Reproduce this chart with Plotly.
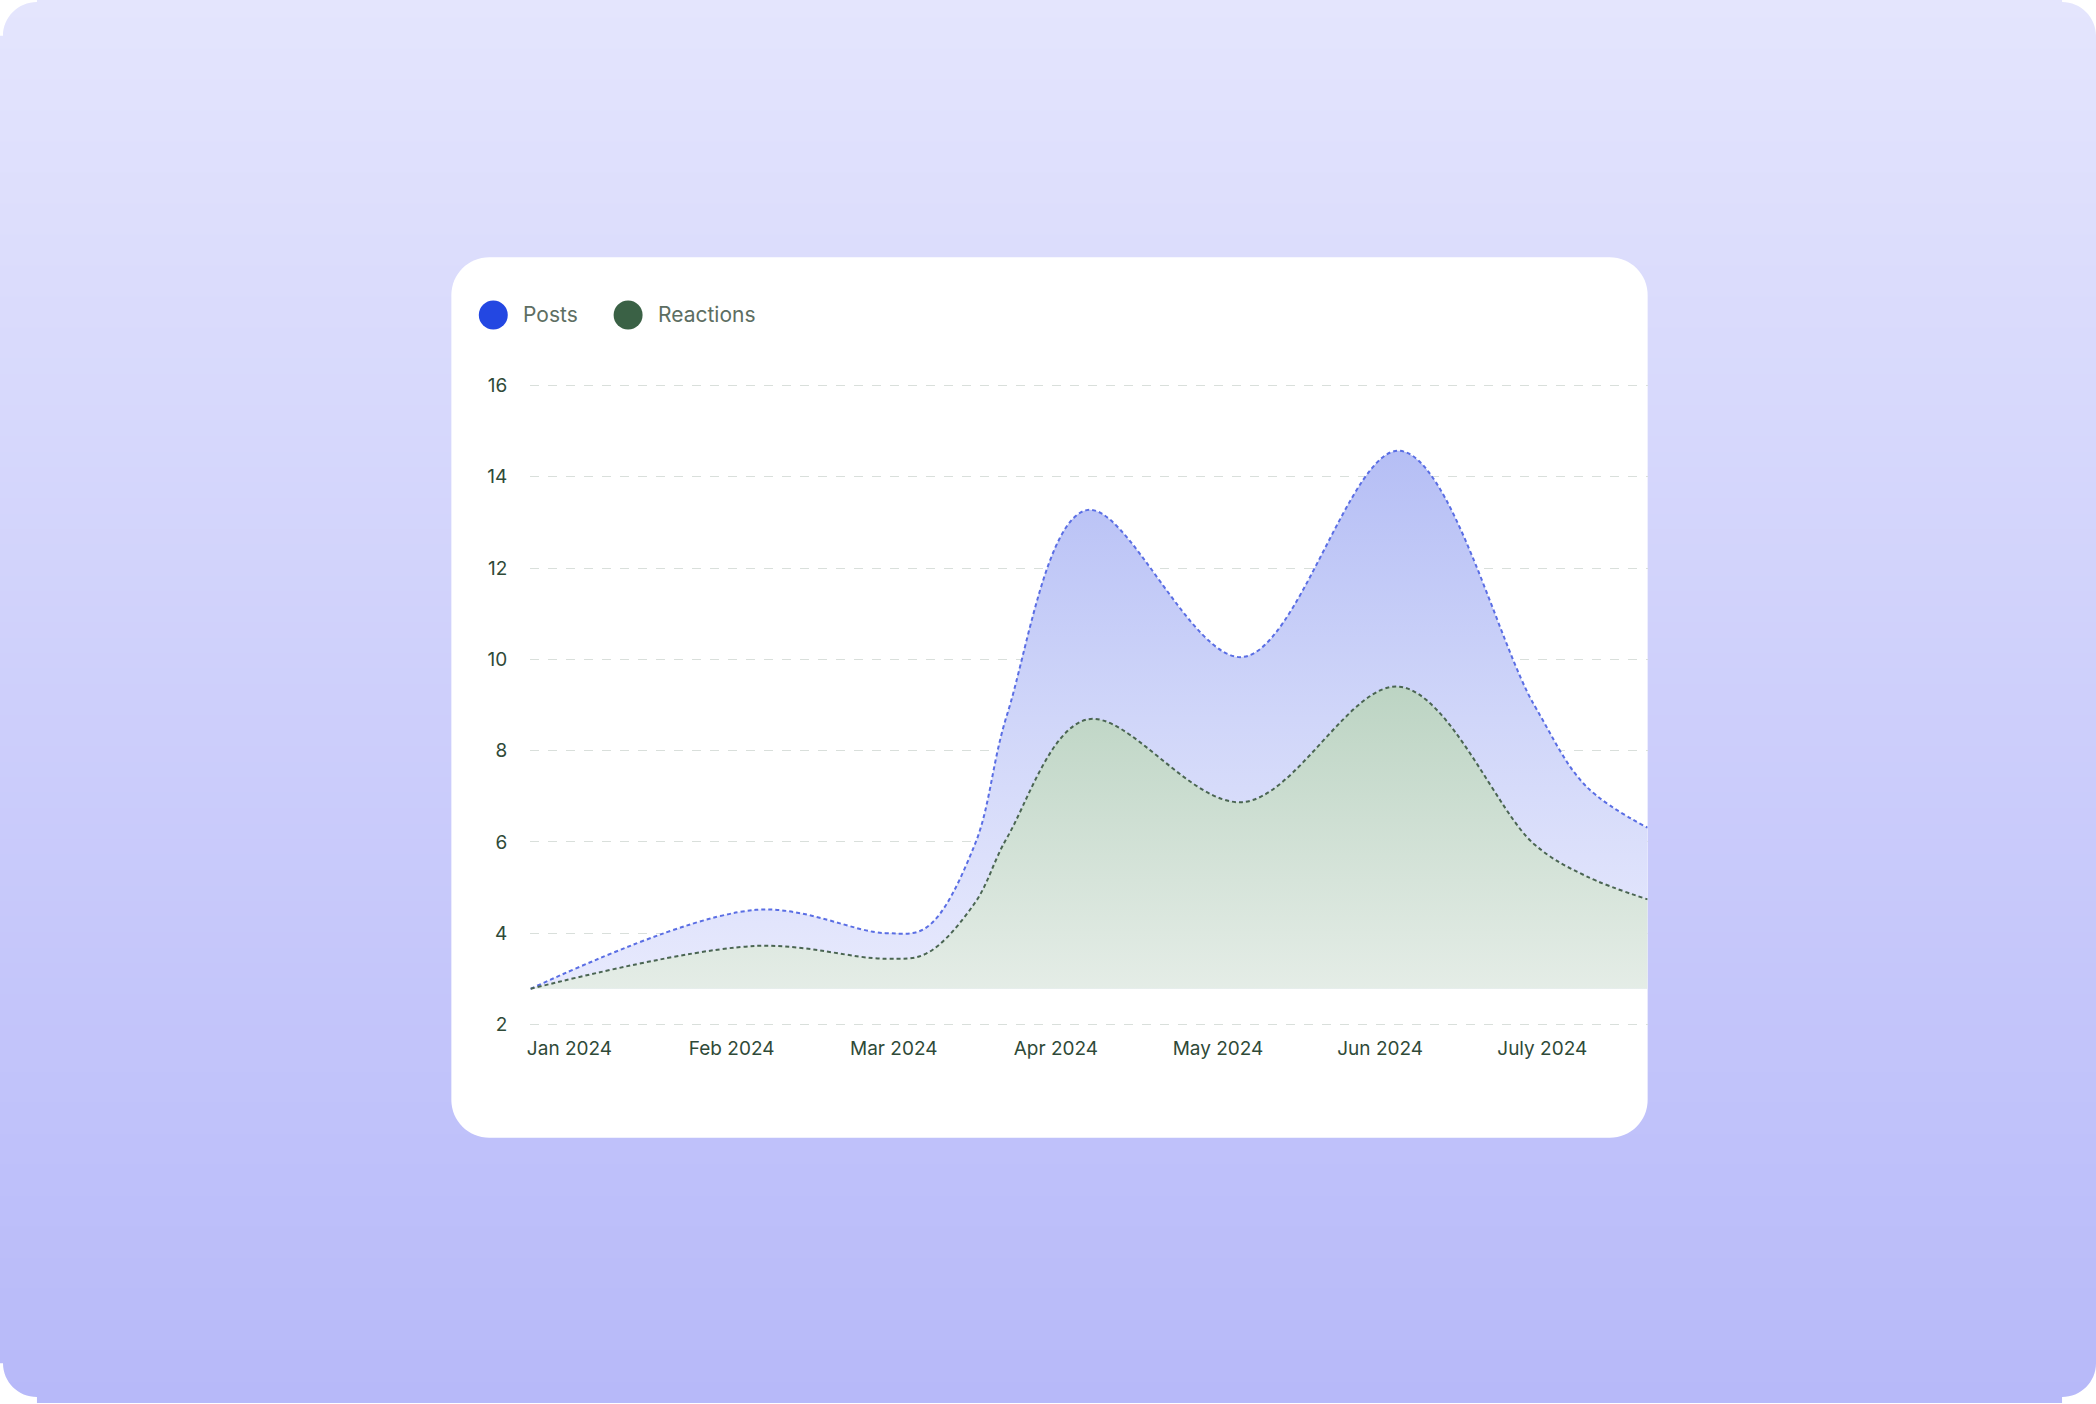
import plotly.graph_objects as go

W, H = 2096, 1404

# ---------------- data ----------------
months = ["Jan 2024", "Feb 2024", "Mar 2024", "Apr 2024", "May 2024", "Jun 2024", "July 2024"]
month_idx = [0, 1, 2, 3, 4, 5, 6]
x_pts = [-0.24, 1.15, 1.95, 2.2, 2.5, 2.7, 3.19, 4.15, 5.12, 5.95, 6.27, 6.65]
posts = [2.78, 4.51, 4.0, 4.12, 5.94, 8.8, 13.27, 10.05, 14.57, 9.0, 7.22, 6.31]
reactions = [2.78, 3.72, 3.44, 3.55, 4.66, 6.1, 8.68, 6.87, 9.4, 5.95, 5.25, 4.74]
fill_base = 2.78
y_ticks = [2, 4, 6, 8, 10, 12, 14, 16]
series_names = ["Posts", "Reactions"]

# ---------------- helpers (pixel -> paper) ----------------
def P(x, y):
    return x / W, 1 - y / H

K = 0.5523

def rr_path(x0, y0, x1, y1, r):
    pts = []
    def m(cmd, *xy):
        s = cmd
        for i in range(0, len(xy), 2):
            px, py = P(xy[i], xy[i + 1])
            s += f" {px:.6f},{py:.6f}"
        pts.append(s)
    kr = K * r
    m("M", x0 + r, y0)
    m("L", x1 - r, y0)
    m("C", x1 - r + kr, y0, x1, y0 + r - kr, x1, y0 + r)
    m("L", x1, y1 - r)
    m("C", x1, y1 - r + kr, x1 - r + kr, y1, x1 - r, y1)
    m("L", x0 + r, y1)
    m("C", x0 + r - kr, y1, x0, y1 - r + kr, x0, y1 - r)
    m("L", x0, y0 + r)
    m("C", x0, y0 + r - kr, x0 + r - kr, y0, x0 + r, y0)
    return " ".join(pts) + " Z"

def corner_mask(cx, cy, sx, sy, r):
    kr = K * r
    e = 6  # extend beyond the page edge
    a = P(cx - sx * e, cy - sy * e)
    a1 = P(cx + sx * r, cy - sy * e)
    b = P(cx + sx * r, cy)
    c1 = P(cx + sx * (r - kr), cy)
    c2 = P(cx, cy + sy * (r - kr))
    d = P(cx, cy + sy * r)
    d1 = P(cx - sx * e, cy + sy * r)
    return (f"M {a[0]:.6f},{a[1]:.6f} L {a1[0]:.6f},{a1[1]:.6f} L {b[0]:.6f},{b[1]:.6f} "
            f"C {c1[0]:.6f},{c1[1]:.6f} {c2[0]:.6f},{c2[1]:.6f} {d[0]:.6f},{d[1]:.6f} "
            f"L {d1[0]:.6f},{d1[1]:.6f} Z")

shapes = []
top_c = (228, 229, 253)
bot_c = (183, 185, 249)
n = 90
for i in range(n):
    t = (i + 0.5) / n
    col = tuple(round(top_c[j] + (bot_c[j] - top_c[j]) * t) for j in range(3))
    y0 = i * H / n - (6 if i == 0 else 0)
    y1 = (i + 1) * H / n + (1 if i < n - 1 else 6)
    x0p, y0p = P(-6, y0)
    x1p, y1p = P(W + 6, y1)
    shapes.append(dict(type="rect", xref="paper", yref="paper", x0=x0p, x1=x1p,
                       y0=y1p, y1=y0p, fillcolor=f"rgb{col}", line=dict(width=0),
                       layer="below"))
R_out = 34
for (cx, cy, sx, sy) in [(0, 0, 1, 1), (W, 0, -1, 1), (0, H, 1, -1), (W, H, -1, -1)]:
    shapes.append(dict(type="path", xref="paper", yref="paper",
                       path=corner_mask(cx, cy, sx, sy, R_out),
                       fillcolor="white", line=dict(width=0), layer="below"))
shapes.append(dict(type="path", xref="paper", yref="paper",
                   path=rr_path(449, 257, 1647, 1143, 38),
                   fillcolor="white", line=dict(width=0), layer="below"))
leg_r = 14.5
for cx, col in [(491, "#2347e2"), (626, "#3a6145")]:
    a = P(cx - leg_r, 315 - leg_r)
    b = P(cx + leg_r, 315 + leg_r)
    shapes.append(dict(type="circle", xref="paper", yref="paper",
                       x0=a[0], x1=b[0], y0=b[1], y1=a[1],
                       fillcolor=col, line=dict(width=0), layer="above"))

annotations = []
for tx, txt in [(519, series_names[0]), (654, series_names[1])]:
    p = P(tx, 315)
    annotations.append(dict(x=p[0], y=p[1], xref="paper", yref="paper", text=txt,
                            showarrow=False, xanchor="left", yanchor="middle",
                            font=dict(family="Inter", size=21, color="#5d6e62")))

fig = go.Figure()

x_base = [x_pts[0], x_pts[-1]]

fig.add_trace(go.Scatter(x=x_base, y=[fill_base, fill_base], mode="lines",
                         line=dict(width=0), hoverinfo="skip", showlegend=False))
fig.add_trace(go.Scatter(
    x=x_pts, y=posts, name=series_names[0], mode="lines",
    line=dict(color="#5a6ee4", width=2, dash="4px,3px", shape="spline", smoothing=1),
    fill="tonexty",
    fillgradient=dict(type="vertical", start=fill_base, stop=14.7,
                      colorscale=[[0, "#e8eafd"], [0.5, "#d0d6f9"], [1, "#b5bef5"]]),
    showlegend=False))
fig.add_trace(go.Scatter(x=x_base, y=[fill_base, fill_base], mode="lines",
                         line=dict(width=0), hoverinfo="skip", showlegend=False))
fig.add_trace(go.Scatter(
    x=x_pts, y=reactions, name=series_names[1], mode="lines",
    line=dict(color="#4a6552", width=2, dash="4px,3px", shape="spline", smoothing=1),
    fill="tonexty",
    fillgradient=dict(type="vertical", start=fill_base, stop=9.5,
                      colorscale=[[0, "#e5ede7"], [1, "#bcd4c3"]]),
    showlegend=False))

# y range [1.9, 16.2]: value 2 -> px 1029, value 16 -> px 386
ppu = (1029 - 386) / 14
xd = P(528, 0)[0], P(1647, 0)[0]
yd = P(0, 1029 + 0.1 * ppu)[1], P(0, 386 - 0.2 * ppu)[1]

fig.update_layout(
    width=W, height=H,
    margin=dict(l=0, r=0, t=0, b=0),
    paper_bgcolor="white",
    plot_bgcolor="rgba(0,0,0,0)",
    shapes=shapes,
    annotations=annotations,
    showlegend=False,
    font=dict(family="Inter", color="#2f4a38"),
    xaxis=dict(domain=list(xd), range=[-0.242, 6.65], tickmode="array",
               tickvals=month_idx, ticktext=months, showgrid=False, zeroline=False,
               showline=False, ticks="", tickfont=dict(size=19, color="#2f4a38"),
               ticklabelstandoff=6, fixedrange=True),
    yaxis=dict(domain=list(yd), range=[1.9, 16.2], tickmode="array", tickvals=y_ticks,
               showgrid=True, gridcolor="#d9dfdb", griddash="dash", gridwidth=1.2,
               zeroline=False, showline=False, ticks="",
               tickfont=dict(size=19, color="#2f4a38"), ticklabelstandoff=22,
               fixedrange=True),
)

fig.write_html("out.html", config={"displayModeBar": False},
               post_script="document.body.style.margin='0';document.body.style.padding='0';")
